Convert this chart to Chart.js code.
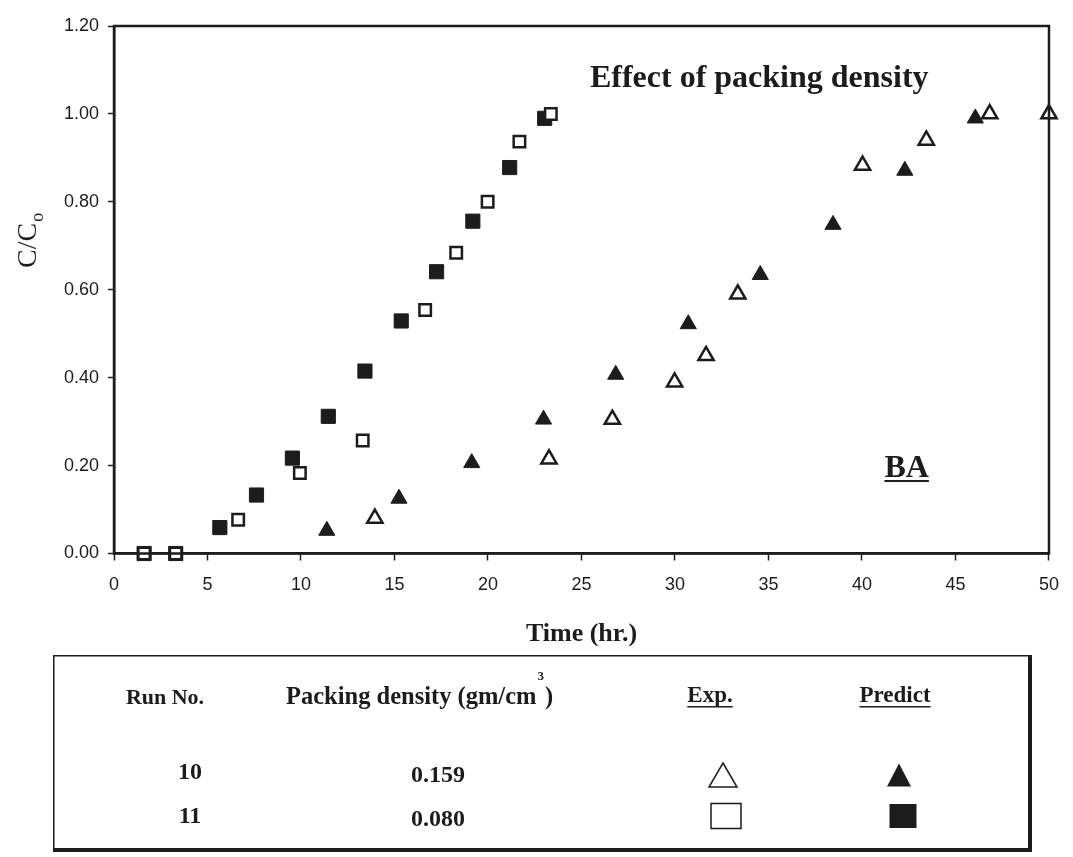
<!DOCTYPE html>
<html>
<head>
<meta charset="utf-8">
<script src="https://cdn.jsdelivr.net/npm/chart.js@4.4.1/dist/chart.umd.min.js"></script>
<style>
  body { margin: 0; background: #fff; }
  canvas { display: block; background: #fff; }
</style>
</head>
<body>
<canvas id="chart" width="1073" height="857"></canvas>
<script>
// Run 10 (packing density 0.159) - experimental / predicted
const exp10X = [13.95, 23.26, 26.65, 29.98, 31.66, 33.36, 40.03, 43.44, 46.83, 50.0];
const exp10Y = [0.08, 0.215, 0.305, 0.39, 0.45, 0.59, 0.883, 0.94, 1.0, 1.0];
const pred10X = [11.38, 15.24, 19.13, 22.97, 26.83, 30.71, 34.56, 38.45, 42.29, 46.06, 50.0];
const pred10Y = [0.052, 0.125, 0.206, 0.305, 0.407, 0.522, 0.634, 0.748, 0.871, 0.99, 1.0];
// Run 11 (packing density 0.080)
const exp11X = [1.61, 3.30, 6.64, 9.94, 13.30, 16.64, 18.30, 19.98, 21.68, 23.36];
const exp11Y = [0, 0, 0.077, 0.183, 0.257, 0.554, 0.684, 0.80, 0.937, 1.0];
const pred11X = [1.61, 3.30, 5.66, 7.62, 9.54, 11.46, 13.42, 15.36, 17.25, 19.19, 21.16, 23.03];
const pred11Y = [0, 0, 0.059, 0.133, 0.217, 0.312, 0.415, 0.529, 0.641, 0.756, 0.878, 0.99];

const runNumbers = ['10', '11'];
const packingDensity = ['0.159', '0.080'];

const SERIF = "'Liberation Serif', 'Times New Roman', serif";
const SANS = "'Liberation Sans', Arial, sans-serif";
const INK = '#1c1c1c';

function toPoints(xs, ys) {
    return xs.map((x, i) => ({ x: x, y: ys[i] }));
}

function drawSymbol(ctx, shape, filled, cx, cy, w, h) {
    ctx.save();
    ctx.beginPath();
    if (shape === 'triangle') {
        ctx.moveTo(cx, cy - h / 2);
        ctx.lineTo(cx + w / 2, cy + h / 2);
        ctx.lineTo(cx - w / 2, cy + h / 2);
        ctx.closePath();
    } else {
        ctx.rect(cx - w / 2, cy - h / 2, w, h);
    }
    if (filled) {
        ctx.fillStyle = INK;
        ctx.fill();
    } else {
        ctx.fillStyle = '#fff';
        ctx.fill();
        ctx.lineWidth = 1.5;
        ctx.strokeStyle = INK;
        ctx.stroke();
    }
    ctx.restore();
}

// text is drawn with textBaseline 'middle', so the underline sits below the centre
function underlined(ctx, text, cx, y) {
    const w = ctx.measureText(text).width;
    ctx.fillText(text, cx - w / 2, y);
    ctx.fillRect(cx - w / 2, y + 10, w, 1.5);
}

const decorations = {
    id: 'decorations',
    afterDatasetsDraw(chart) {
        const { ctx, chartArea: a } = chart;
        ctx.save();
        ctx.strokeStyle = INK;
        ctx.lineWidth = 2.5;
        ctx.strokeRect(a.left, a.top, a.right - a.left, a.bottom - a.top);
        ctx.restore();
    },
    afterDraw(chart) {
        const { ctx, scales } = chart;
        const sx = scales.x, sy = scales.y;
        ctx.save();
        ctx.fillStyle = INK;
        ctx.textAlign = 'left';
        ctx.textBaseline = 'alphabetic';

        // in-plot annotations
        ctx.font = 'bold 32px ' + SERIF;
        ctx.fillText('Effect of packing density', sx.getPixelForValue(25.45), sy.getPixelForValue(1.061));
        ctx.font = 'bold 32px ' + SERIF;
        const baX = sx.getPixelForValue(41.2), baY = sy.getPixelForValue(0.174);
        ctx.fillText('BA', baX, baY);
        ctx.fillRect(baX, baY + 3, ctx.measureText('BA').width, 2);

        // y axis title C/Co
        ctx.save();
        ctx.translate(36, 268);
        ctx.rotate(-Math.PI / 2);
        ctx.font = '28px ' + SERIF;
        ctx.fillText('C/C', 0, 0);
        const cw = ctx.measureText('C/C').width;
        ctx.font = '18px ' + SERIF;
        ctx.fillText('o', cw + 1, 7);
        ctx.restore();

        // legend table
        const L = 53, T = 655, R = 1030, B = 850;
        ctx.fillRect(L, T, R - L, 1.5);
        ctx.fillRect(L, T, 1.5, B - T);
        ctx.fillRect(R - 2, T, 4, B - T + 2);
        ctx.fillRect(L, B - 2, R - L + 2, 4);

        ctx.textBaseline = 'middle';
        ctx.font = 'bold 22px ' + SERIF;
        ctx.textAlign = 'center';
        ctx.fillText('Run No.', 165, 698);
        ctx.textAlign = 'left';
        ctx.font = 'bold 24.5px ' + SERIF;
        const head = 'Packing density (gm/cm';
        ctx.fillText(head, 286, 698);
        let hx = 286 + ctx.measureText(head).width;
        ctx.font = 'bold 13px ' + SERIF;
        ctx.fillText('3', hx + 1, 677);
        hx += ctx.measureText('3').width + 2;
        ctx.font = 'bold 24.5px ' + SERIF;
        ctx.fillText(')', hx, 698);
        ctx.font = 'bold 23px ' + SERIF;
        underlined(ctx, 'Exp.', 710, 696);
        underlined(ctx, 'Predict', 895, 696);

        ctx.font = 'bold 24px ' + SERIF;
        ctx.textAlign = 'center';
        const rowY = [773, 817];
        runNumbers.forEach((r, i) => {
            ctx.fillText(r, 190, rowY[i]);
            ctx.fillText(packingDensity[i], 438, rowY[i] + 3);
        });
        drawSymbol(ctx, 'triangle', false, 723, rowY[0] + 2, 28, 24);
        drawSymbol(ctx, 'triangle', true, 899, rowY[0] + 2, 24, 23);
        drawSymbol(ctx, 'rect', false, 726, rowY[1] - 1, 30, 25);
        drawSymbol(ctx, 'rect', true, 903, rowY[1] - 1, 27, 24);
        ctx.restore();
    }
};

const hollow = { pointBackgroundColor: '#fff', pointBorderColor: INK, pointBorderWidth: 2.5 };
const solid = { pointBackgroundColor: INK, pointBorderColor: INK, pointBorderWidth: 1 };

const ctx = document.getElementById('chart').getContext('2d');
const chart = new Chart(ctx, {
    type: 'scatter',
    data: {
        datasets: [
            { label: 'Exp. run 10', data: toPoints(exp10X, exp10Y), pointStyle: 'triangle', pointRadius: 8.8, clip: false, ...hollow },
            { label: 'Exp. run 11', data: toPoints(exp11X, exp11Y), pointStyle: 'rect', pointRadius: 8.1, clip: false, ...hollow },
            { label: 'Predict run 10', data: toPoints(pred10X, pred10Y), pointStyle: 'triangle', pointRadius: 9.3, clip: false, ...solid },
            { label: 'Predict run 11', data: toPoints(pred11X, pred11Y), pointStyle: 'rect', pointRadius: 10, clip: false, ...solid }
        ]
    },
    options: {
        responsive: false,
        animation: false,
        layout: { padding: { left: 0, top: 26, right: 20, bottom: 207 } },
        plugins: {
            legend: { display: false },
            tooltip: { enabled: false }
        },
        scales: {
            x: {
                type: 'linear', min: 0, max: 50,
                ticks: { stepSize: 5, padding: 14, color: INK, font: { family: SANS, size: 18 } },
                grid: { drawOnChartArea: false, tickLength: 7, tickColor: INK, tickWidth: 1.5 },
                border: { display: true, color: INK, width: 2.5 },
                title: { display: true, text: 'Time (hr.)', color: INK, padding: 0,
                         font: { family: SERIF, size: 26, weight: 'bold' } },
                afterFit: s => { s.height = 96.5; }
            },
            y: {
                type: 'linear', min: 0, max: 1.2,
                ticks: { stepSize: 0.2, padding: 9, color: INK, font: { family: SANS, size: 18 },
                         callback: v => v.toFixed(2) },
                grid: { drawOnChartArea: false, tickLength: 6, tickColor: INK, tickWidth: 1.5 },
                border: { display: true, color: INK, width: 2.5 },
                afterFit: s => { s.width = 114; }
            }
        }
    },
    plugins: [decorations]
});
</script>
</body>
</html>
